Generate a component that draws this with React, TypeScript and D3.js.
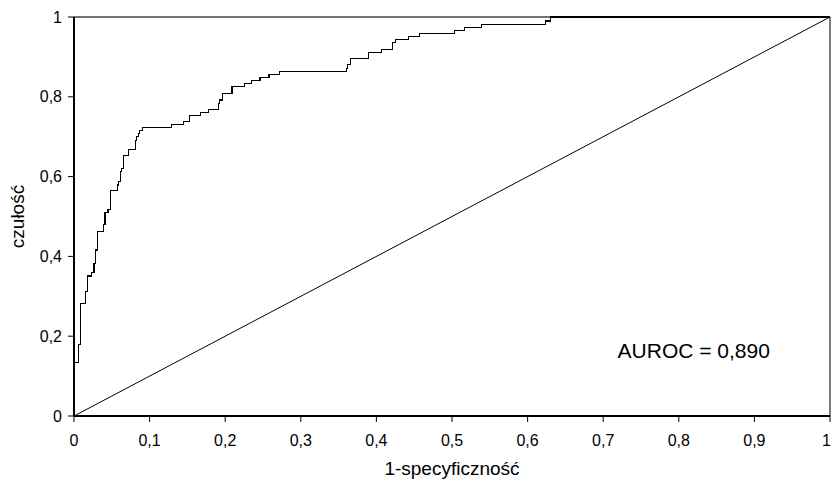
import React from "react";
import * as d3 from "d3";

// ROC corners: 1-specificity (fpr) and sensitivity (tpr)
const fpr = [
  0, 0.001, 0.006, 0.009, 0.015, 0.018, 0.023, 0.0265, 0.029, 0.031, 0.039, 0.041,
  0.045, 0.048, 0.057, 0.059, 0.061, 0.063, 0.066, 0.072, 0.081, 0.083, 0.085, 0.087,
  0.091, 0.129, 0.145, 0.153, 0.167, 0.178, 0.191, 0.193, 0.197, 0.209, 0.225, 0.235,
  0.246, 0.258, 0.272, 0.36, 0.362, 0.366, 0.389, 0.407, 0.421, 0.425, 0.443, 0.457,
  0.503, 0.517, 0.539, 0.624, 0.63, 1,
];
const tpr = [
  0, 0.135, 0.18, 0.281, 0.311, 0.351, 0.359, 0.383, 0.416, 0.462, 0.479, 0.51,
  0.518, 0.565, 0.579, 0.587, 0.612, 0.621, 0.652, 0.667, 0.69, 0.7, 0.709, 0.715,
  0.723, 0.731, 0.738, 0.754, 0.761, 0.769, 0.784, 0.792, 0.809, 0.825, 0.834, 0.84,
  0.849, 0.857, 0.864, 0.871, 0.882, 0.896, 0.911, 0.919, 0.936, 0.944, 0.951, 0.959,
  0.966, 0.974, 0.982, 0.99, 1, 1,
];
const diagonal = [0, 1];

const xTicks = [0, 0.1, 0.2, 0.3, 0.4, 0.5, 0.6, 0.7, 0.8, 0.9, 1];
const yTicks = [0, 0.2, 0.4, 0.6, 0.8, 1];

const xTitle = "1-specyficzność";
const yTitle = "czułość";
const aurocLabel = "AUROC = 0,890";

const width = 832;
const height = 486;
const margin = { top: 17, right: 2, bottom: 70, left: 74 };
const font = "'Liberation Sans', Arial, sans-serif";

const fmt = (v: number) => String(v).replace(".", ",");

export default function App() {
  const x = d3.scaleLinear().domain([0, 1]).range([margin.left, width - margin.right]);
  const y = d3.scaleLinear().domain([0, 1]).range([height - margin.bottom, margin.top]);

  const roc = d3
    .line<number>()
    .x((d) => x(fpr[d]))
    .y((d) => y(tpr[d]))
    .curve(d3.curveStepAfter)(d3.range(fpr.length));

  const diag = d3
    .line<number>()
    .x((d) => x(d))
    .y((d) => y(d))(diagonal);

  const [x0, x1] = x.range();
  const [y0, y1] = y.range();

  return (
    <svg
      width={width}
      height={height}
      style={{ position: "absolute", left: 0, top: 0, background: "#fff" }}
      fontFamily={font}
    >
      {/* frame */}
      <line x1={x0} x2={x1} y1={y1} y2={y1} stroke="#444" strokeWidth={1.5} />
      <line x1={x1} x2={x1} y1={y1} y2={y0} stroke="#000" strokeWidth={1} />

      <path d={diag ?? ""} fill="none" stroke="#000" strokeWidth={1} />
      <path d={roc ?? ""} fill="none" stroke="#000" strokeWidth={1.1} shapeRendering="crispEdges" />

      {/* axes */}
      <line x1={x0} x2={x1} y1={y0} y2={y0} stroke="#000" strokeWidth={2} />
      <line x1={x0} x2={x0} y1={y0} y2={y1} stroke="#000" strokeWidth={2} />

      {xTicks.map((t, i) => {
        const last = i === xTicks.length - 1;
        return (
          <g key={"x" + t}>
            <line x1={x(t)} x2={x(t)} y1={y0} y2={y0 + 6} stroke="#000" strokeWidth={1} />
            <text
              x={last ? width - 1 : x(t)}
              y={y0 + 30}
              textAnchor={last ? "end" : "middle"}
              fontSize={16}
              fill="#000"
            >
              {fmt(t)}
            </text>
          </g>
        );
      })}
      {yTicks.map((t) => (
        <g key={"y" + t}>
          <line x1={x0 - 6} x2={x0} y1={y(t)} y2={y(t)} stroke="#000" strokeWidth={1} />
          <text x={x0 - 12} y={y(t)} dy="0.35em" textAnchor="end" fontSize={16} fill="#000">
            {fmt(t)}
          </text>
        </g>
      ))}

      <text x={(x0 + x1) / 2} y={y0 + 59} textAnchor="middle" fontSize={19} fill="#000">
        {xTitle}
      </text>
      <text
        transform={`translate(24,${(y0 + y1) / 2}) rotate(-90)`}
        textAnchor="middle"
        fontSize={19}
        fill="#000"
      >
        {yTitle}
      </text>

      <text x={x(0.719)} y={y(0.145)} fontSize={21} fill="#000">
        {aurocLabel}
      </text>
    </svg>
  );
}
